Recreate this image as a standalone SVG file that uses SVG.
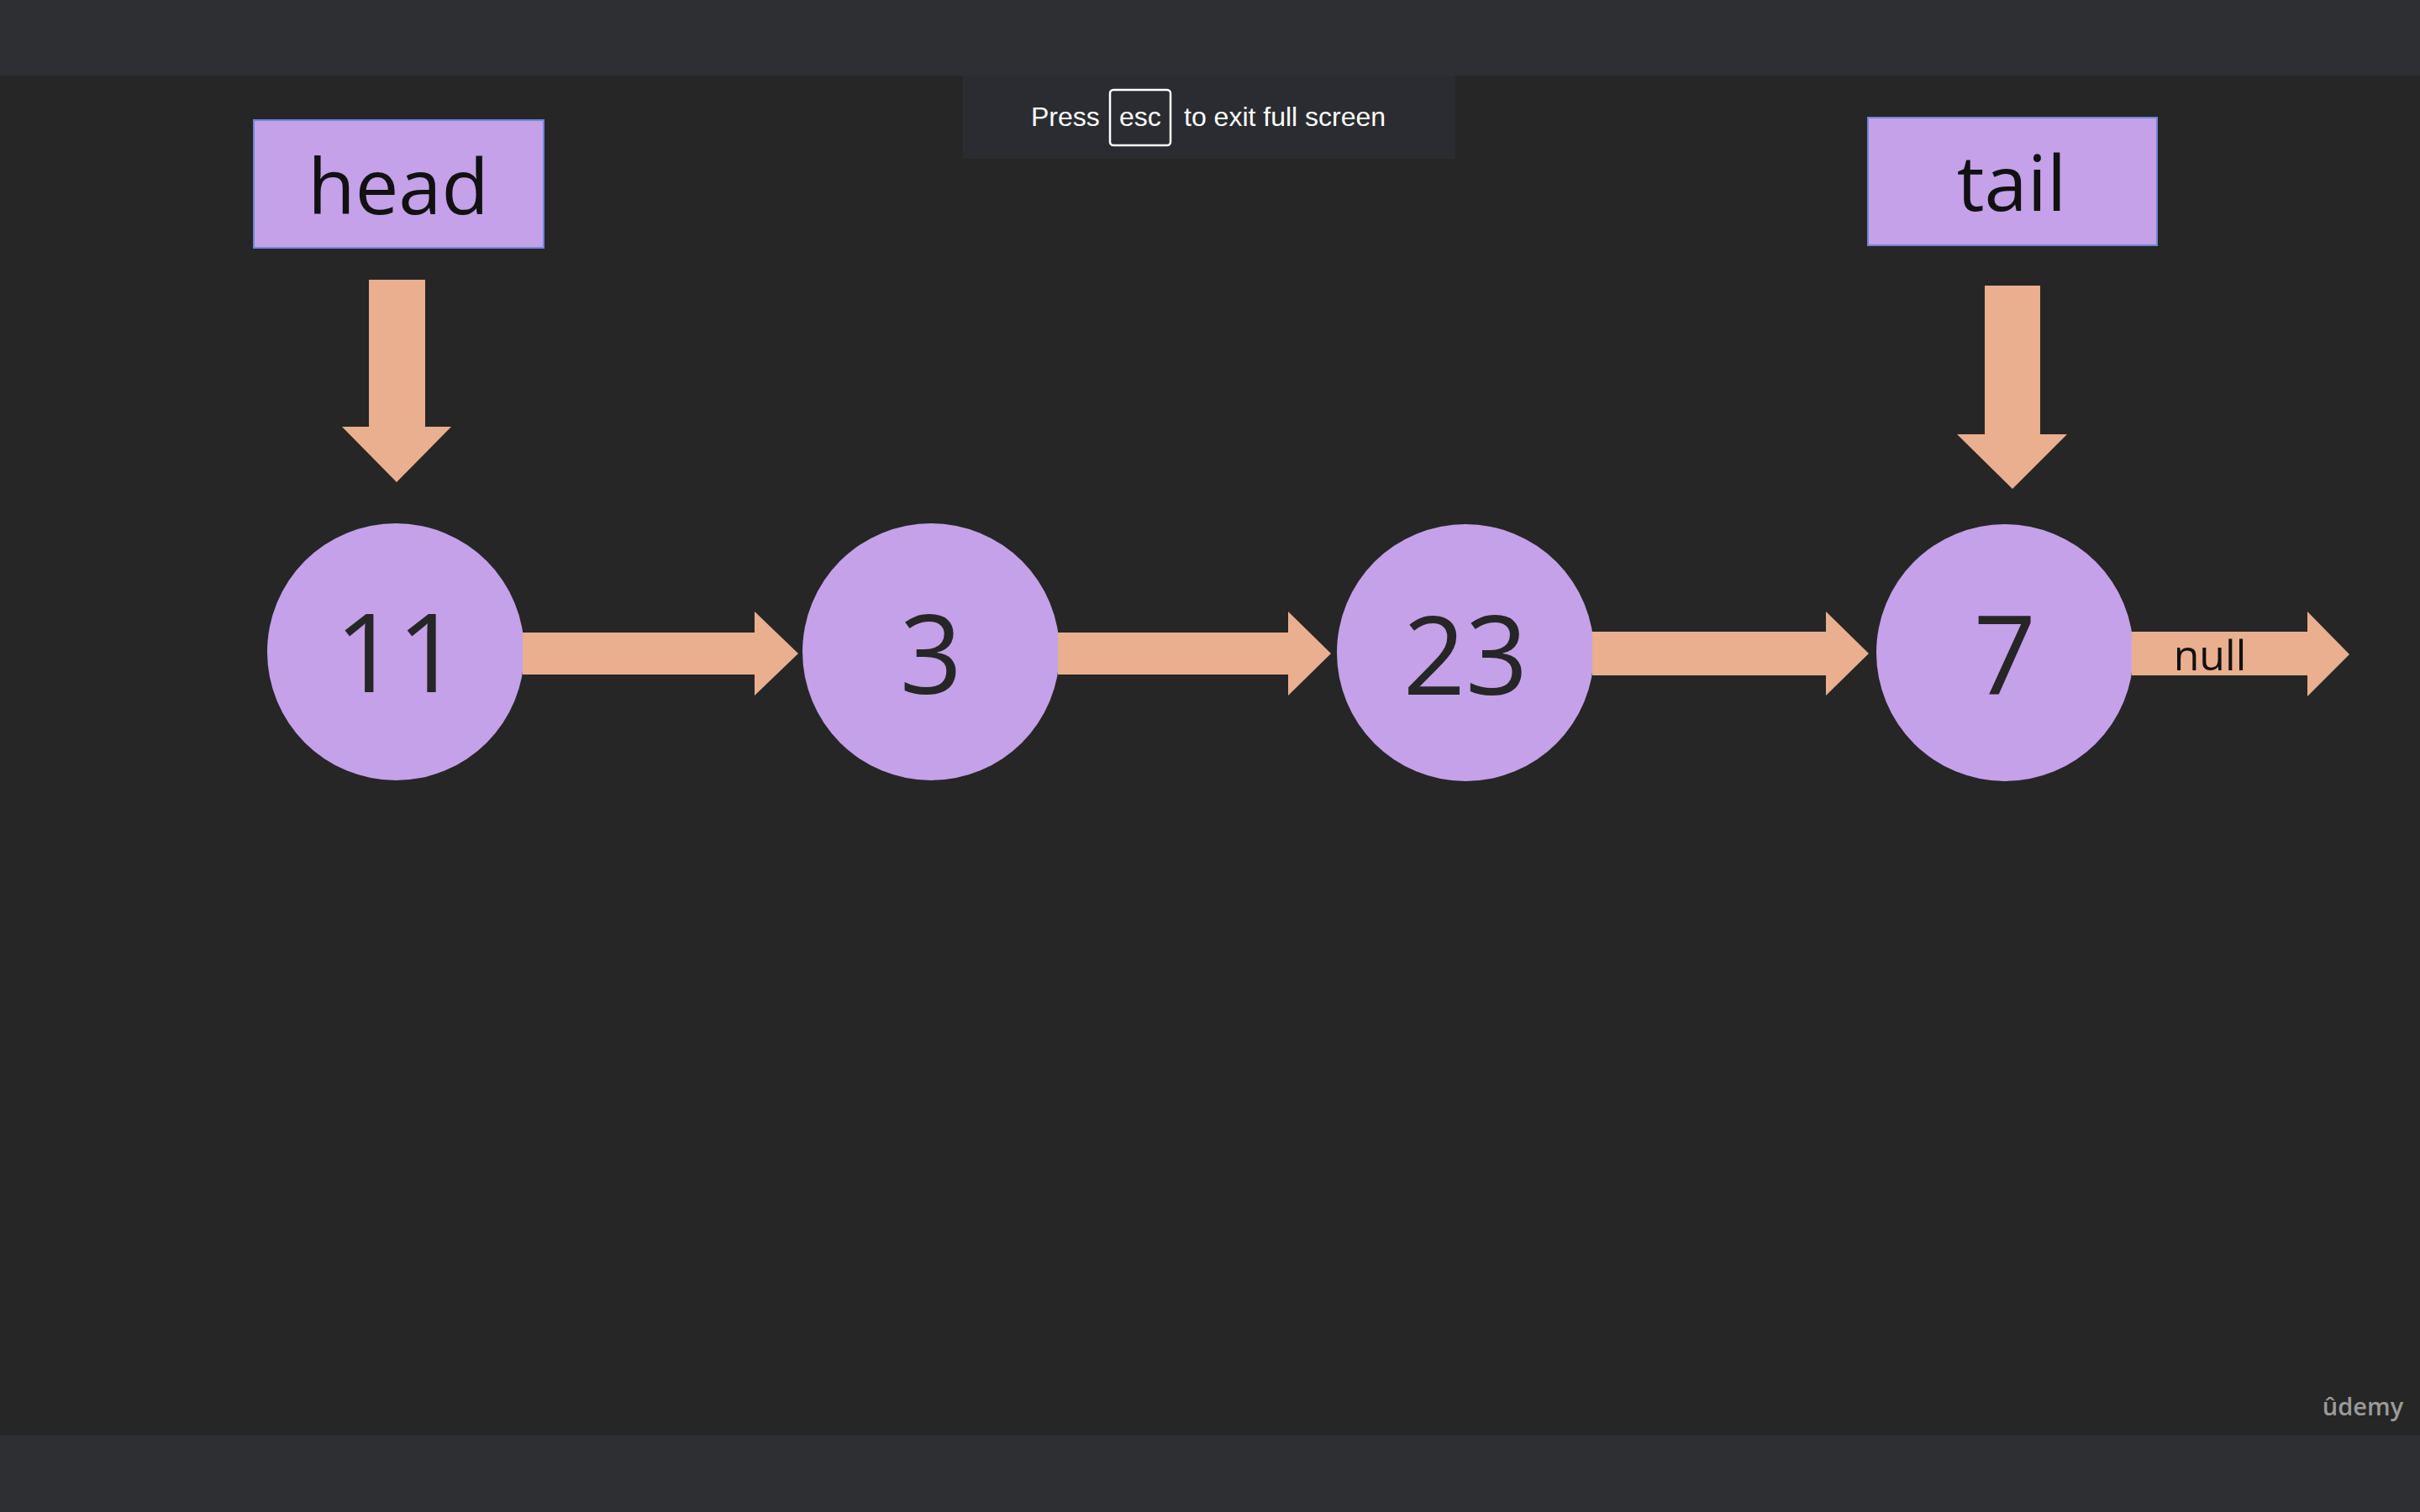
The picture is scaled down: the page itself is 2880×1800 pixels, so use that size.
<svg xmlns="http://www.w3.org/2000/svg" width="2880" height="1800" viewBox="0 0 2880 1800">
  <style>
    .bar { fill: #2e2f33; }
    .node { fill: #c4a1e9; }
    .ptr { fill: #c4a1e9; stroke: #6f86d6; stroke-width: 2; }
    .arrow { fill: #e9af8f; }
    .lbl { font-family: "Open Sans", "Noto Sans", sans-serif; fill: #111111; text-anchor: middle; }
    .num { font-family: "Open Sans", "Noto Sans", sans-serif; fill: #262626; text-anchor: middle; font-size: 130px; }
    .toast { font-family: "Liberation Sans", Arial, sans-serif; fill: #ffffff; font-size: 32px; }
  </style>
  <rect x="0" y="0" width="2880" height="1800" fill="#262626"/>
  <rect class="bar" x="0" y="0" width="2880" height="90"/>
  <rect class="bar" x="0" y="1709" width="2880" height="91"/>

  <g id="toast">
    <rect x="1146" y="90" width="586" height="99" fill="#2b2c31"/>
    <text class="toast" x="1227" y="150">Press</text>
    <rect x="1321" y="107" width="72" height="66" rx="4" fill="none" stroke="#ffffff" stroke-width="2.5"/>
    <text class="toast" x="1332" y="150">esc</text>
    <text class="toast" x="1409" y="150">to exit full screen</text>
  </g>

  <g id="head">
    <rect class="ptr" x="302" y="143" width="345" height="152"/>
    <text class="lbl" x="474" y="255" font-size="92">head</text>
  </g>
  <g id="tail">
    <rect class="ptr" x="2223" y="140" width="344" height="152"/>
    <text class="lbl" x="2394" y="251" font-size="92">tail</text>
  </g>

  <g id="n11">
    <circle class="node" cx="471" cy="776" r="153"/>
    <text class="num" x="473" y="824">11</text>
  </g>
  <g id="n3">
    <circle class="node" cx="1108" cy="776" r="153"/>
    <text class="num" x="1108" y="826">3</text>
  </g>
  <g id="n23">
    <circle class="node" cx="1744" cy="777" r="153"/>
    <text class="num" x="1744" y="827">23</text>
  </g>
  <g id="n7">
    <circle class="node" cx="2386" cy="777" r="153"/>
    <text class="num" x="2386" y="826">7</text>
  </g>

  <g id="connectors">
    <polygon class="arrow" points="439,333 506,333 506,508 537,508 472,574 407,508 439,508"/>
    <polygon class="arrow" points="2362,340 2428,340 2428,517 2460,517 2395,582 2329,517 2362,517"/>
    <polygon class="arrow" points="622,753 898,753 898,728 950,778 898,828 898,803 622,803"/>
    <polygon class="arrow" points="1259,753 1533,753 1533,728 1584,778 1533,828 1533,803 1259,803"/>
    <polygon class="arrow" points="1895,752 2173,752 2173,728 2224,778 2173,828 2173,804 1895,804"/>
    <polygon class="arrow" points="2537,752 2746,752 2746,728 2796,779 2746,829 2746,804 2537,804"/>
    <text class="lbl" x="2630" y="798" font-size="50" fill="#1a1a1a">null</text>
  </g>

  <text x="2812" y="1685" font-family="Open Sans, Noto Sans, sans-serif" font-size="29" font-weight="600" fill="#9a9a9a" text-anchor="middle">ûdemy</text>
</svg>
